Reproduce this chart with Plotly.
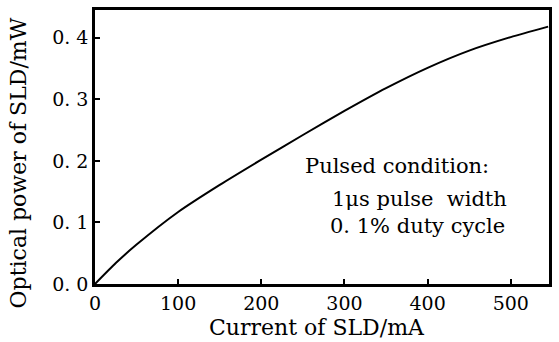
import plotly.graph_objects as go

current_mA = [0, 25, 50, 100, 150, 200, 250, 300, 350, 400, 450, 500, 545]
power_mW = [0, 0.034, 0.064, 0.117, 0.161, 0.202, 0.242, 0.281, 0.318, 0.351, 0.379, 0.401, 0.418]

x_tick_vals = [0, 100, 200, 300, 400, 500]
x_tick_text = ["0", "100", "200", "300", "400", "500"]
y_tick_vals = [0.0, 0.1, 0.2, 0.3, 0.4]
y_tick_text = ["0. 0", "0. 1", "0. 2", "0. 3", "0. 4"]

note_lines = ["Pulsed condition:", "1μs pulse  width", "0. 1% duty cycle"]
note_x = [250, 283, 280]
note_y = [0.191, 0.138, 0.095]

FONT = "DejaVu Serif"

fig = go.Figure()
fig.add_trace(go.Scatter(x=current_mA, y=power_mW, mode="lines",
                         line=dict(color="black", width=2, shape="spline", smoothing=0.6),
                         showlegend=False, hoverinfo="skip"))

for t, xx, yy in zip(note_lines, note_x, note_y):
    fig.add_annotation(x=xx, y=yy, xref="x", yref="y", text=t, showarrow=False,
                       xanchor="left", yanchor="middle",
                       font=dict(family=FONT, size=21, color="black"))

fig.add_annotation(x=0, y=0.44, xref="paper", yref="paper", xshift=-77,
                   text="Optical power of SLD/mW", textangle=-90, showarrow=False,
                   xanchor="center", yanchor="middle",
                   font=dict(family=FONT, size=22, color="black"))
fig.add_annotation(x=0.49, y=0, xref="paper", yref="paper", yshift=-43,
                   text="Current of SLD/mA", showarrow=False,
                   xanchor="center", yanchor="middle",
                   font=dict(family=FONT, size=22, color="black"))

fig.update_layout(
    width=559, height=342,
    margin=dict(l=95, r=7, t=7, b=58),
    paper_bgcolor="white", plot_bgcolor="white",
    font=dict(family=FONT, size=19, color="black"),
)
fig.update_xaxes(range=[0, 546], tickvals=x_tick_vals, ticktext=x_tick_text,
                 ticks="inside", ticklen=5, tickwidth=1.5, tickcolor="black",
                 showgrid=False, zeroline=False, showline=True, linecolor="black",
                 linewidth=2.5, mirror=True, tickfont=dict(family=FONT, size=19))
fig.update_yaxes(range=[0, 0.445], tickvals=y_tick_vals, ticktext=y_tick_text,
                 ticks="inside", ticklen=5, tickwidth=1.5, tickcolor="black",
                 showgrid=False, zeroline=False, showline=True, linecolor="black",
                 linewidth=2.5, mirror=True, tickfont=dict(family=FONT, size=19))

fig.write_html("out.html", config={"displayModeBar": False},
               post_script="document.body.style.margin='0';document.body.style.overflow='hidden';")
